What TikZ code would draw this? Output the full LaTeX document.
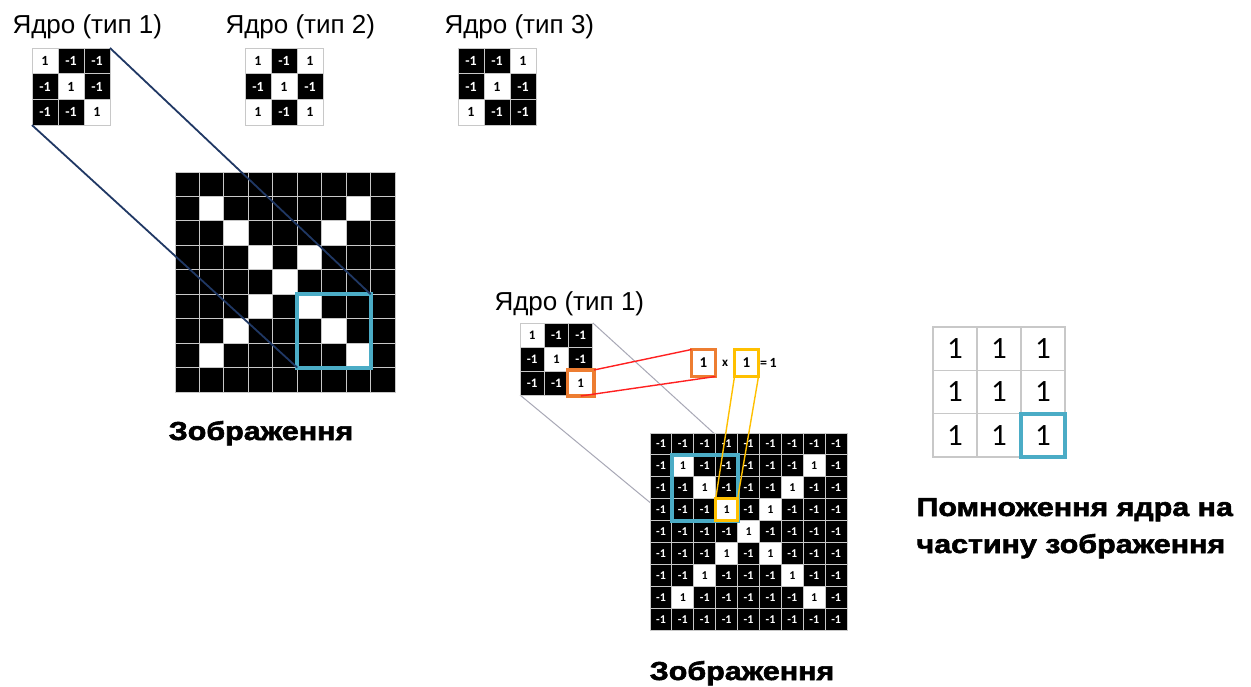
\documentclass[tikz,border=0pt]{standalone}
\usepackage{fontspec}
\usepackage{graphicx}
\setmainfont{Liberation Sans}
\newfontfamily\digitfont{Carlito}
\newfontfamily\heavyfont{Liberation Sans Bold}[FakeBold=2]
\usetikzlibrary{fit}

\definecolor{cellline}{HTML}{C8C8C8}
\definecolor{selcyan}{HTML}{4BACC6}
\definecolor{linknavy}{HTML}{203864}
\definecolor{linkgray}{HTML}{A8A8B6}
\definecolor{pickorange}{HTML}{ED7D31}
\definecolor{pickyellow}{HTML}{FFC000}
\definecolor{linkred}{HTML}{FF2020}

\pgfdeclarelayer{paper}
\pgfdeclarelayer{under}
\pgfsetlayers{paper,under,main}

\tikzset{
  cellbase/.style={draw=cellline, line width=1pt, inner sep=0pt, outer sep=0pt, anchor=north west},
  framebox/.style={draw=cellline, line width=1pt, inner sep=0pt, outer sep=0pt, anchor=north west},
  title/.style={anchor=base west, font=\fontsize{26pt}{26pt}\selectfont},
  caption/.style={anchor=base, font=\heavyfont\fontsize{26pt}{26pt}\selectfont},
  selbox/.style={draw=selcyan, line width=4pt, inner sep=0pt, outer sep=0pt},
  orangebox/.style={draw=pickorange, line width=3.5pt, inner sep=0pt, outer sep=0pt},
  yellowbox/.style={draw=pickyellow, line width=3.5pt, inner sep=0pt, outer sep=0pt},
  navylink/.style={draw=linknavy, line width=1.8pt},
  graylink/.style={draw=linkgray, line width=1pt},
  redlink/.style={draw=linkred, line width=1.4pt},
  yellowlink/.style={draw=pickyellow, line width=1.4pt},
}

% 3x3 kernel: name, left, top, cell width, cell height, font size, rows
\newcommand\kernelgrid[7]{%
  \node[framebox, minimum width=3*#4, minimum height=3*#5] (#1) at (#2,#3) {};
  \foreach \vals [count=\ri from 0] in {#7} {
    \foreach \v [count=\ci from 0] in \vals {
      \ifnum\v>0 \def\cellfill{white}\def\celltext{black}\else\def\cellfill{black}\def\celltext{white}\fi
      \node[cellbase, fill=\cellfill, text=\celltext, minimum width=#4, minimum height=#5,
            font=\digitfont\bfseries\fontsize{#6pt}{#6pt}\selectfont]
        (#1-\ri-\ci) at ({#2+\ci*#4},{#3+\ri*#5}) {\v};
    }
  }
}

% 9x9 picture of an X: name, left, top, cell size, font size (0 = no numbers)
\newcommand\crossgrid[5]{%
  \def\gridfs{#5}\ifnum#5=0 \def\gridfs{10}\fi
  \foreach \ri in {0,...,8} {
    \foreach \ci in {0,...,8} {
      \pgfmathtruncatemacro\iswhite{and(or(\ri==\ci,\ri+\ci==8),and(\ri>0,\ri<8))}
      \ifnum\iswhite=1 \def\cellfill{white}\def\celltext{black}\def\cellval{1}\else\def\cellfill{black}\def\celltext{white}\def\cellval{-1}\fi
      \ifnum#5=0 \def\cellval{}\fi
      \node[cellbase, fill=\cellfill, text=\celltext, minimum width=#4, minimum height=#4,
            font=\digitfont\bfseries\fontsize{\gridfs pt}{\gridfs pt}\selectfont]
        (#1-\ri-\ci) at ({#2+\ci*#4},{#3+\ri*#4}) {\cellval};
    }
  }
}

\begin{document}
\begin{tikzpicture}[x=1pt,y=-1pt]
\useasboundingbox (0,0) rectangle (1251,686);
\begin{pgfonlayer}{paper}
  \fill[white] (0,0) rectangle (1251,686);
\end{pgfonlayer}

% kernel titles
\node[title] (tA) at (9,33) {Ядро (тип 1)};
\node[title] (tB) at (222,33) {Ядро (тип 2)};
\node[title] (tC) at (441,33) {Ядро (тип 3)};
\node[title] (tD) at (491,310) {Ядро (тип 1)};

% kernels
\kernelgrid{kA}{32}{48}{26}{25.7}{14}{{1,-1,-1},{-1,1,-1},{-1,-1,1}}
\kernelgrid{kB}{245}{48}{26}{25.7}{14}{{1,-1,1},{-1,1,-1},{1,-1,1}}
\kernelgrid{kC}{458}{48}{26}{25.7}{14}{{-1,-1,1},{-1,1,-1},{1,-1,-1}}
\kernelgrid{kD}{520}{323}{24.3}{24}{13}{{1,-1,-1},{-1,1,-1},{-1,-1,1}}

% the large image and its highlighted window
\crossgrid{big}{175}{172}{24.45}{0}
\node[selbox, fit=(big-5-5)(big-7-7)] (selA) {};
\draw[navylink] (kA.north east) -- (selA.north east);
\draw[navylink] (kA.south west) -- (selA.south west);
\node[caption] (capA) at (261,440) {\scalebox{1.17}[1]{Зображення}};

% the numeric image
\crossgrid{sm}{650}{433}{21.9}{12}
\node[selbox, fit=(sm-1-1)(sm-3-3)] (selB) {};
\begin{pgfonlayer}{under}
  \draw[graylink] (kD.north east) -- (selB.north east);
  \draw[graylink] (kD.south west) -- (selB.south west);
\end{pgfonlayer}
\node[yellowbox, fit=(sm-3-3)] (pickD) {};
\node[caption] (capB) at (742,680) {\scalebox{1.17}[1]{Зображення}};

% one product of the convolution
\node[orangebox, fit=(kD-2-2), inner sep=1pt] (pickA) {};
\node[orangebox, minimum width=24, minimum height=27, font=\digitfont\bfseries\fontsize{15pt}{15pt}\selectfont] (pickB) at (703.5,363) {1};
\node[font=\digitfont\bfseries\fontsize{13pt}{13pt}\selectfont] (times) at (725,363) {x};
\node[yellowbox, minimum width=24, minimum height=27, font=\digitfont\bfseries\fontsize{15pt}{15pt}\selectfont] (pickC) at (746.5,363) {1};
\node[anchor=west, inner sep=1pt, font=\digitfont\bfseries\fontsize{14pt}{14pt}\selectfont] (prod) at (759,363) {=\,1};
\draw[redlink] (pickA.north east) -- (pickB.north west);
\draw[redlink] (pickA.south) -- (pickB.south east);
\draw[yellowlink] (pickC.south west) -- (pickD.north west);
\draw[yellowlink] (pickC.south east) -- (pickD.north east);

% result of the element-wise product
\foreach \ri in {0,1,2} {
  \foreach \ci in {0,1,2} {
    \node[cellbase, line width=1.4pt, fill=white, minimum width=44, minimum height=43.3,
          font=\digitfont\fontsize{31pt}{31pt}\selectfont]
      (res-\ri-\ci) at ({933+\ci*44},{327+\ri*43.3}) {1};
  }
}
\node[selbox, fit=(res-2-2)] (selC) {};
\node[caption, anchor=base west] (capC1) at (913,516) {\scalebox{1.17}[1]{Помноження ядра на}};
\node[caption, anchor=base west] (capC2) at (913,553) {\scalebox{1.17}[1]{частину зображення}};
\end{tikzpicture}
\end{document}
